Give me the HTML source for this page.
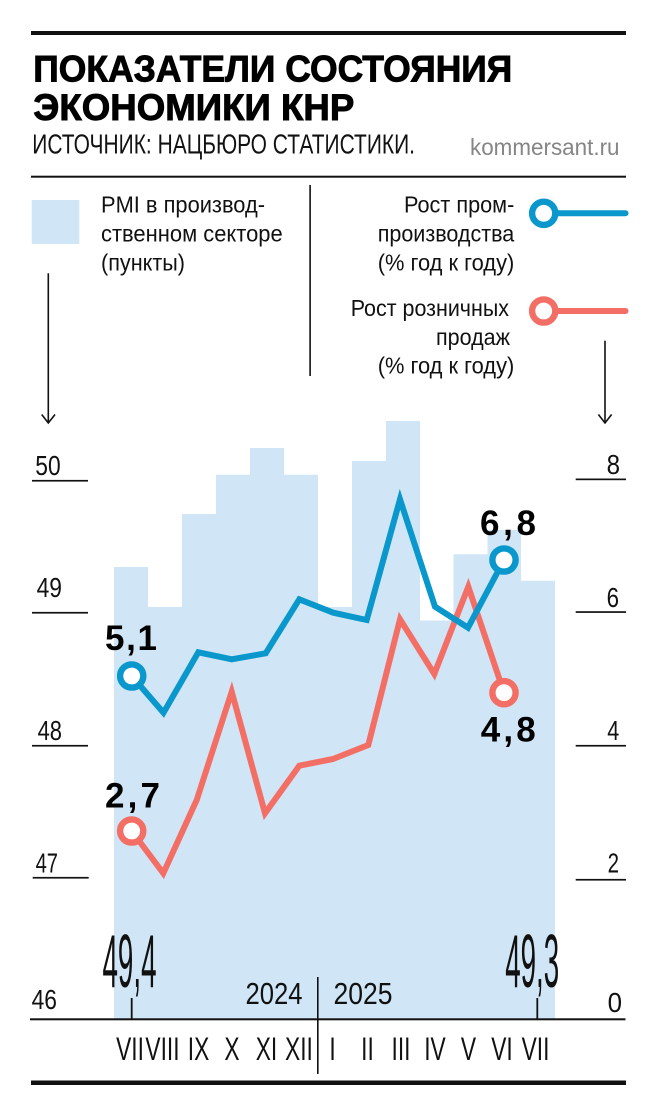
<!DOCTYPE html>
<html>
<head>
<meta charset="utf-8">
<style>
html,body{margin:0;padding:0;background:#fff;width:660px;height:1115px;overflow:hidden}
svg{display:block}
</style>
</head>
<body>
<svg width="660" height="1115" viewBox="0 0 660 1115" xmlns="http://www.w3.org/2000/svg" font-family="'Liberation Sans', Arial, sans-serif">
  <rect x="0" y="0" width="660" height="1115" fill="#ffffff"/>

  <!-- top rule -->
  <rect x="31" y="31" width="595" height="4" fill="#111"/>

  <!-- title -->
  <text x="33.3" y="81.7" font-size="36.8" font-weight="bold" fill="#000" stroke="#000" stroke-width="0.9" textLength="479" lengthAdjust="spacingAndGlyphs">ПОКАЗАТЕЛИ СОСТОЯНИЯ</text>
  <text x="33.3" y="120" font-size="36.8" font-weight="bold" fill="#000" stroke="#000" stroke-width="0.9" textLength="321" lengthAdjust="spacingAndGlyphs">ЭКОНОМИКИ КНР</text>

  <!-- subtitle -->
  <text x="32.3" y="153.3" font-size="28" fill="#111" textLength="382.7" lengthAdjust="spacingAndGlyphs">ИСТОЧНИК: НАЦБЮРО СТАТИСТИКИ.</text>
  <text x="470" y="155" font-size="23" fill="#858585" textLength="149.5" lengthAdjust="spacingAndGlyphs">kommersant.ru</text>

  <!-- thin rule -->
  <rect x="31" y="175.7" width="595" height="2" fill="#111"/>

  <!-- legend left -->
  <rect x="31.7" y="200" width="47.6" height="44" fill="#d0e6f6"/>
  <g font-size="23.5" fill="#111">
    <text x="101" y="212.3" textLength="164" lengthAdjust="spacingAndGlyphs">PMI в производ-</text>
    <text x="101" y="241.3" textLength="181.7" lengthAdjust="spacingAndGlyphs">ственном секторе</text>
    <text x="101" y="270.3" textLength="84" lengthAdjust="spacingAndGlyphs">(пункты)</text>
  </g>

  <!-- legend divider -->
  <rect x="309.3" y="185" width="1.6" height="191" fill="#111"/>

  <!-- legend right -->
  <g font-size="23.5" fill="#111">
    <text x="404" y="212.3" textLength="110.3" lengthAdjust="spacingAndGlyphs">Рост пром-</text>
    <text x="377.7" y="241.5" textLength="136.6" lengthAdjust="spacingAndGlyphs">производства</text>
    <text x="377.7" y="270.5" textLength="136.6" lengthAdjust="spacingAndGlyphs">(% год к году)</text>
    <text x="350.7" y="316" textLength="158.3" lengthAdjust="spacingAndGlyphs">Рост розничных</text>
    <text x="436" y="345" textLength="74" lengthAdjust="spacingAndGlyphs">продаж</text>
    <text x="377.7" y="373.7" textLength="136.6" lengthAdjust="spacingAndGlyphs">(% год к году)</text>
  </g>
  <line x1="546" y1="213.3" x2="625.5" y2="213.3" stroke="#0a98cc" stroke-width="6" stroke-linecap="round"/>
  <circle cx="543.7" cy="213.3" r="11.6" fill="#fff" stroke="#0a98cc" stroke-width="6.4"/>
  <line x1="546" y1="311" x2="625.5" y2="311" stroke="#f36f66" stroke-width="6" stroke-linecap="round"/>
  <circle cx="543.7" cy="311" r="11.6" fill="#fff" stroke="#f36f66" stroke-width="6.4"/>

  <!-- arrows -->
  <g stroke="#111" stroke-width="1.6" fill="none">
    <line x1="48.3" y1="273.3" x2="48.3" y2="422.5"/>
    <polyline points="41.7,414.5 48.3,423 55,414.5"/>
    <line x1="605" y1="340.7" x2="605" y2="422.5"/>
    <polyline points="598.4,414.5 605,423 611.6,414.5"/>
  </g>

  <!-- bars -->
  <path d="M114,1019.3 L114,567 L148,567 L148,607 L182,607 L182,514 L216,514 L216,474.7 L250,474.7 L250,448 L284,448 L284,474.7 L318,474.7 L318,607 L352,607 L352,461 L386,461 L386,421 L420,421 L420,620.5 L453.5,620.5 L453.5,554.3 L487.5,554.3 L487.5,530 L521,530 L521,580.7 L555,580.7 L555,1019.3 Z" fill="#d0e6f6"/>

  <!-- left axis ticks -->
  <g fill="#111">
    <rect x="32" y="479.9" width="56" height="1.7"/>
    <rect x="32" y="611.9" width="56" height="1.7"/>
    <rect x="32" y="744.9" width="56" height="1.7"/>
    <rect x="32.7" y="876.9" width="56" height="1.7"/>
    <!-- right axis ticks -->
    <rect x="575.7" y="478.5" width="50.3" height="1.7"/>
    <rect x="575.7" y="611.2" width="50.3" height="1.7"/>
    <rect x="575.7" y="744.9" width="50.3" height="1.7"/>
    <rect x="575.7" y="878.9" width="50.3" height="1.7"/>
    <!-- baseline -->
    <rect x="30" y="1018.3" width="595.5" height="2"/>
    <!-- small ticks -->
    <rect x="130.8" y="998" width="1.8" height="21"/>
    <rect x="536.4" y="998" width="1.8" height="21"/>
    <!-- year separator -->
    <rect x="317" y="977" width="1.6" height="97"/>
    <!-- bottom rule -->
    <rect x="31" y="1080.5" width="595" height="4.5"/>
  </g>

  <!-- axis labels -->
  <g font-size="27.5" fill="#111">
    <text x="35.3" y="475" textLength="25.4" lengthAdjust="spacingAndGlyphs">50</text>
    <text x="36.6" y="597" textLength="25.4" lengthAdjust="spacingAndGlyphs">49</text>
    <text x="37.6" y="740" textLength="24.4" lengthAdjust="spacingAndGlyphs">48</text>
    <text x="35.6" y="872.7" textLength="22.4" lengthAdjust="spacingAndGlyphs">47</text>
    <text x="31.6" y="1009" textLength="25.4" lengthAdjust="spacingAndGlyphs">46</text>
    <text x="606.6" y="474" textLength="13.4" lengthAdjust="spacingAndGlyphs">8</text>
    <text x="606.6" y="607" textLength="12.4" lengthAdjust="spacingAndGlyphs">6</text>
    <text x="607.3" y="740" textLength="12" lengthAdjust="spacingAndGlyphs">4</text>
    <text x="607.6" y="872.7" textLength="11.4" lengthAdjust="spacingAndGlyphs">2</text>
    <text x="607.6" y="1012" textLength="14.4" lengthAdjust="spacingAndGlyphs">0</text>
  </g>

  <!-- tall condensed first/last PMI values -->
  <text x="102.5" y="987" font-size="75" fill="#111" textLength="54" lengthAdjust="spacingAndGlyphs">49,4</text>
  <text x="505.2" y="987" font-size="75" fill="#111" textLength="54" lengthAdjust="spacingAndGlyphs">49,3</text>

  <!-- years -->
  <text x="245.5" y="1004" font-size="31" fill="#111" textLength="57" lengthAdjust="spacingAndGlyphs">2024</text>
  <text x="333.5" y="1004" font-size="31" fill="#111" textLength="59" lengthAdjust="spacingAndGlyphs">2025</text>

  <!-- months -->
  <g transform="scale(0.7,1)" font-size="32.5" fill="#111" text-anchor="middle">
    <text x="185.7" y="1060">VII</text>
    <text x="232.1" y="1060">VIII</text>
    <text x="283.6" y="1060">IX</text>
    <text x="331.4" y="1060">X</text>
    <text x="380.7" y="1060">XI</text>
    <text x="427.1" y="1060">XII</text>
    <text x="475" y="1060">I</text>
    <text x="525" y="1060">II</text>
    <text x="572.9" y="1060">III</text>
    <text x="621.4" y="1060">IV</text>
    <text x="669.3" y="1060">V</text>
    <text x="717.1" y="1060">VI</text>
    <text x="765" y="1060">VII</text>
  </g>

  <!-- retail sales line -->
  <polyline points="131.7,831 163.3,873.3 196.7,800 231.7,691.7 265,813.3 299.3,765.7 333,759 368.3,745 400,619.3 434.3,674 468.3,586.7 504,692.7" fill="none" stroke="#f36f66" stroke-width="6" stroke-linejoin="miter" stroke-miterlimit="6"/>
  <!-- industrial production line -->
  <polyline points="131.7,676 163.5,712.7 198.3,652.3 231.7,659.3 265.7,653.3 299.3,599.3 333.3,612.7 366.7,620 400,499.3 435,606.7 468,627.7 504,560" fill="none" stroke="#0a98cc" stroke-width="6" stroke-linejoin="miter" stroke-miterlimit="6"/>

  <!-- markers -->
  <circle cx="131.7" cy="676" r="11.6" fill="#fff" stroke="#0a98cc" stroke-width="6.4"/>
  <circle cx="504" cy="560" r="11.6" fill="#fff" stroke="#0a98cc" stroke-width="6.4"/>
  <circle cx="131.7" cy="831" r="11.6" fill="#fff" stroke="#f36f66" stroke-width="6.4"/>
  <circle cx="504" cy="692.7" r="11.6" fill="#fff" stroke="#f36f66" stroke-width="6.4"/>

  <!-- value labels -->
  <g font-size="35" font-weight="bold" fill="#000">
    <text x="105" y="650" textLength="52" lengthAdjust="spacing">5,1</text>
    <text x="105" y="807.3" textLength="55" lengthAdjust="spacing">2,7</text>
    <text x="480" y="535" textLength="56" lengthAdjust="spacing">6,8</text>
    <text x="480.7" y="741.7" textLength="55" lengthAdjust="spacing">4,8</text>
  </g>
</svg>
</body>
</html>
